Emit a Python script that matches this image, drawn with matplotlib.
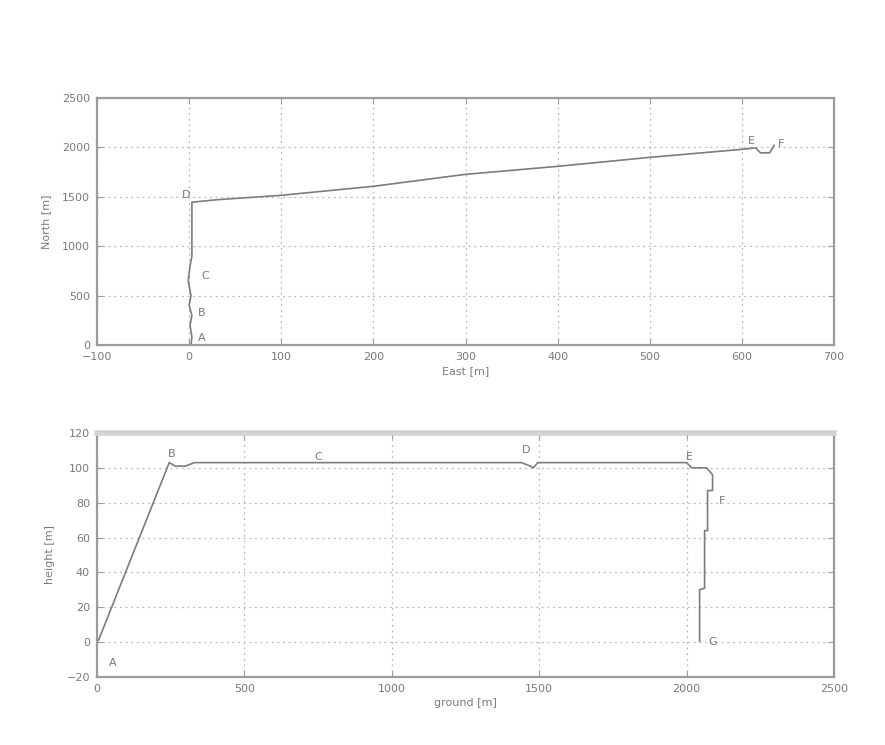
import matplotlib.pyplot as plt

# top panel: plan view of the track
east = [2, 3, 1, 3, 0, 2, -1, 1, 3, 3, 3, 30, 100, 200, 300, 400, 500, 600, 615, 620, 630, 635]
north = [0, 80, 200, 300, 400, 500, 650, 800, 900, 1200, 1445, 1470, 1515, 1606, 1727, 1808, 1899, 1980, 1995, 1945, 1945, 2020]
top_labels = ['A', 'B', 'C', 'D', 'E', 'F']
top_label_east = [14, 14, 18, -3, 610, 642]
top_label_north = [75, 325, 700, 1515, 2060, 2030]

# bottom panel: height profile along the ground track
ground = [5, 245, 265, 300, 330, 1440, 1470, 1480, 1495, 2000, 2017, 2068, 2088, 2088, 2071, 2071, 2061, 2061, 2044, 2044]
height = [1, 103, 101, 101, 103, 103, 101, 100, 103, 103, 100, 100, 96, 87, 87, 64, 64, 31, 30, 0.5]
bot_labels = ['A', 'B', 'C', 'D', 'E', 'F', 'G']
bot_label_ground = [55, 255, 750, 1455, 2010, 2120, 2090]
bot_label_height = [-12, 108, 106, 110, 106, 81, 0]

text_col = '#7a7a7a'
line_col = '#7c7c7c'
spine_col = '#9c9c9c'
fs = 8

fig = plt.figure(figsize=(8.85, 7.45), dpi=100)

def style(ax):
    for s in ax.spines.values():
        s.set_color(spine_col)
        s.set_linewidth(1.6)
    ax.tick_params(direction='in', top=True, right=True, length=4,
                   color=spine_col, labelcolor=text_col, labelsize=fs, pad=5)
    ax.grid(True, color='#b8b8b8', linestyle=(0, (1.5, 3)), linewidth=0.9)

ax1 = fig.add_axes([0.1096, 0.5369, 0.8328, 0.3316])
ax1.plot(east, north, color=line_col, linewidth=1.2)
for lab, x, y in zip(top_labels, top_label_east, top_label_north):
    ax1.text(x, y, lab, fontsize=fs, color=text_col, ha='center', va='center')
ax1.set_xlim(-100, 700)
ax1.set_ylim(0, 2500)
ax1.set_xticks(range(-100, 701, 100))
ax1.set_yticks(range(0, 2501, 500))
ax1.set_xlabel('East [m]', fontsize=fs, color=text_col, labelpad=3)
ax1.set_ylabel('North [m]', fontsize=fs, color=text_col, labelpad=8)
style(ax1)

ax2 = fig.add_axes([0.1096, 0.0913, 0.8328, 0.3275])
ax2.plot(ground, height, color=line_col, linewidth=1.2)
for lab, x, y in zip(bot_labels, bot_label_ground, bot_label_height):
    ax2.text(x, y, lab, fontsize=fs, color=text_col, ha='center', va='center')
ax2.set_xlim(0, 2500)
ax2.set_ylim(-20, 120)
ax2.set_xticks(range(0, 2501, 500))
ax2.set_yticks(range(-20, 121, 20))
ax2.set_xlabel('ground [m]', fontsize=fs, color=text_col, labelpad=3)
ax2.set_ylabel('height [m]', fontsize=fs, color=text_col, labelpad=8)
style(ax2)
ax2.spines['top'].set_color('#d4d4d4')
ax2.spines['top'].set_linewidth(4)

fig.savefig('out.png', dpi=100)
